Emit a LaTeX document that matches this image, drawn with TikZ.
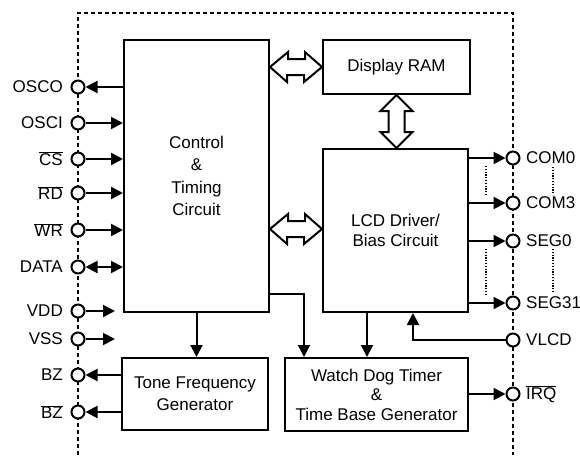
\documentclass[tikz,border=0pt]{standalone}
\usepackage{fontspec}
\setmainfont{Liberation Sans}
\usetikzlibrary{arrows.meta,calc}
\begin{document}
\begin{tikzpicture}[x=1pt,y=-1pt,
  every node/.style={font=\fontsize{17}{22.3}\selectfont},
  blk/.style={draw,line width=2pt,inner sep=0pt},
  pin/.style={circle,draw,fill=white,line width=2pt,minimum size=13pt,inner sep=0pt},
  arr/.style={line width=2pt,-{Triangle[length=12pt,width=12pt]}},
  darr/.style={line width=2pt,{Triangle[length=12pt,width=12pt]}-{Triangle[length=12pt,width=12pt]}},
  bord/.style={line width=1.6pt,dash pattern=on 4pt off 3pt},
  fat/.style={draw,line width=2pt,fill=white,line join=miter},
  dotv/.style={line width=1.5pt,dash pattern=on 1.2pt off 1.6pt}]
\useasboundingbox (0,0) rectangle (580,455);
% border
\draw[bord] (78,455) -- (78,13) -- (513,13) -- (513,455);
% blocks
\node[blk,minimum width=145pt,minimum height=272pt,align=center] (ctrl) at (196.5,176) {Control\\\&\\Timing\\Circuit};
\node[blk,minimum width=147pt,minimum height=54pt] (ram) at (396.5,67) {Display RAM};
\node[blk,minimum width=145pt,minimum height=163pt,align=center,font=\fontsize{17}{20}\selectfont] (lcd) at (395.5,230.5) {LCD Driver/\\Bias Circuit};
\node[blk,minimum width=146pt,minimum height=72pt,align=center,font=\fontsize{17}{22}\selectfont] (tone) at (195,394) {Tone Frequency\\Generator};
\node[blk,minimum width=183pt,minimum height=73pt,align=center,font=\fontsize{17}{19.5}\selectfont] (wd) at (376.5,394.5) {Watch Dog Timer\\\&\\Time Base Generator};
% left pins
\foreach \n/\y/\t in {osco/87/OSCO, osci/123/OSCI, cs/159/$\overline{\mbox{CS}}$, rd/193/$\overline{\mbox{RD}}$, wr/230/$\overline{\mbox{WR}}$, data/267/DATA, vdd/311/VDD, vss/339/VSS, bz/375/BZ, bzb/412/$\overline{\mbox{BZ}}$}{
  \node[pin] (\n) at (78,\y) {};
  \node[anchor=east,inner sep=0pt] (\n l) at (63,\y) {\t};
}
% right pins
\foreach \n/\y/\t in {com0/158/COM0, com3/203/COM3, seg0/241/SEG0, seg31/303/SEG31, vlcd/340/VLCD, irq/394/$\overline{\mbox{IRQ}}$}{
  \node[pin] (\n) at (513,\y) {};
  \node[anchor=west,inner sep=0pt] (\n l) at (526,\y) {\t};
}
% left connectors
\draw[arr] (osco -| ctrl.west) -- (osco.east);
\foreach \n in {osci,cs,rd,wr}{\draw[arr] (\n.east) -- (\n -| ctrl.west);}
\draw[darr] (data.east) -- (data -| ctrl.west);
\draw[arr] (vdd.east) -- ([xshift=-8pt]vdd -| ctrl.west);
\draw[arr] (vss.east) -- ([xshift=-8pt]vss -| ctrl.west);
\draw[arr] (bz -| tone.west) -- (bz.east);
\draw[arr] (bzb -| tone.west) -- (bzb.east);
% right connectors
\draw[arr] (com0 -| lcd.east) -- (com0.west);
\draw[arr] (com3 -| lcd.east) -- (com3.west);
\draw[arr] (seg0 -| lcd.east) -- (seg0.west);
\draw[arr] (seg31 -| lcd.east) -- (seg31.west);
\draw[arr] (irq -| wd.east) -- (irq.west);
\draw[arr] (vlcd.west) -| ([xshift=17.5pt]lcd.south);
% internal
\draw[arr] (ctrl.south) -- (ctrl.south |- tone.north);
\draw[arr] ([xshift=-28.5pt]lcd.south) -- ([xshift=-9.5pt]wd.north);
\coordinate (cw) at ([yshift=-118pt]ctrl.east);
\draw[arr] (cw) -| ([xshift=-72.5pt]wd.north);
% dotted continuation marks
\draw[dotv] (486,166) -- (486,196);
\draw[dotv] (553,167) -- (553,195);
\draw[dotv] (486,249) -- (486,294);
\draw[dotv] (553,249) -- (553,292);
% fat double arrows
\draw[fat] (ctrl.east |- 0,67) -- ++(18,-15) -- ++(0,7) -- ++(17,0) -- ++(0,-7) -- (ram.west) -- ++(-18,15) -- ++(0,-7) -- ++(-17,0) -- ++(0,7) -- cycle;
\draw[fat] (ctrl.east |- 0,229) -- ++(18,-15) -- ++(0,7) -- ++(17,0) -- ++(0,-7) -- (lcd.west |- 0,229) -- ++(-18,15) -- ++(0,-7) -- ++(-17,0) -- ++(0,7) -- cycle;
\draw[fat] (ram.south |- 0,95) -- ++(16,16) -- ++(-8,0) -- ++(0,21) -- ++(8,0) -- (ram.south |- lcd.north) -- ++(-16,-16) -- ++(8,0) -- ++(0,-21) -- ++(-8,0) -- cycle;
\end{tikzpicture}
\end{document}
